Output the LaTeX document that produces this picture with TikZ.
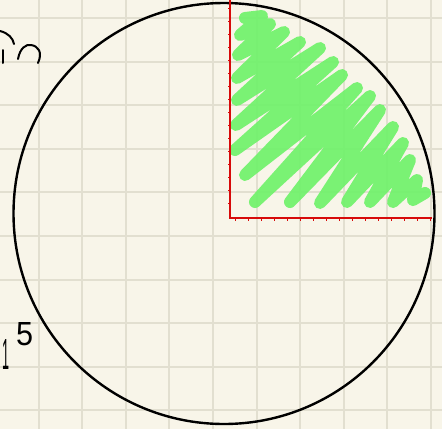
\documentclass[tikz,border=0pt]{standalone}
\usepackage{fontspec}
\newfontfamily\handfont{Liberation Sans}
\begin{document}
\begin{tikzpicture}[x=1pt,y=-1pt,
  gridline/.style={draw=gridc,line width=2pt},
  ink/.style={draw=black,line width=2.4pt,line cap=round,line join=round},
  redline/.style={draw=redc,line width=2pt},
  scribble/.style={draw=greenc,line width=12pt,line cap=round,line join=round},
  hand/.style={font=\handfont,text=black,inner sep=0pt}]
\definecolor{bgc}{RGB}{248,245,233}
\definecolor{gridc}{RGB}{226,223,208}
\definecolor{redc}{RGB}{215,10,10}
\definecolor{greenc}{RGB}{112,242,107}
\fill[bgc] (0,0) rectangle (442,429);
\useasboundingbox (0,0) rectangle (442,429);
% grid
\foreach \i in {0,...,9} {
  \draw[gridline] ({38.5+43.6*\i},0) -- ({38.5+43.6*\i},429);
  \draw[gridline] (0,{18+43.6*\i}) -- (442,{18+43.6*\i});
}
% green scribble
\begin{scope}[transparency group,opacity=0.92]
\draw[scribble] (245,18) -- (262,16) -- (240,35) -- (270,24) -- (238,55) -- (284,32)
  -- (237,78) -- (300,42) -- (237,100) -- (320,48) -- (236,125) -- (333,62)
  -- (235,150) -- (342,75) -- (245,175) -- (357,88) -- (255,202) -- (370,96)
  -- (290,202) -- (380,110) -- (320,203) -- (393,127) -- (347,202) -- (403,143)
  -- (370,202) -- (410,160) -- (393,202) -- (417,180) -- (413,200) -- (425,193);
\end{scope}
% circle
\node[ink,circle,minimum size=421pt,inner sep=0pt] (c) at (224,213.5) {};
% red axes
\coordinate (top) at (230,0);
\coordinate (o) at (230,218);
\coordinate (right) at (432,218);
\draw[redline] (top) -- (o) -- (right);
\foreach \k in {0,...,15} {
  \draw[redc,line width=0.8pt] ({235+13*\k},218) -- ({235+13*\k},220.5);
  \draw[redc,line width=0.8pt] (230,{8+13*\k}) -- (227.5,{8+13*\k});
}
% handwriting at top left (cut off)
\draw[ink,line width=2pt] (0,31) .. controls (8,33) and (13,38) .. (14,44);
\draw[ink,line width=2pt] (3,50) -- (3,63);
\draw[ink,line width=2pt] (18,59) .. controls (20,48) and (26,44) .. (31,45)
  .. controls (38,46) and (43,52) .. (38,63);
% "15"
\node[hand,anchor=south west] (one) at (2,370) {\resizebox{7pt}{30pt}{1}};
\node[hand,anchor=south west] (five) at (16,346) {\resizebox{17pt}{23pt}{5}};
\end{tikzpicture}
\end{document}
